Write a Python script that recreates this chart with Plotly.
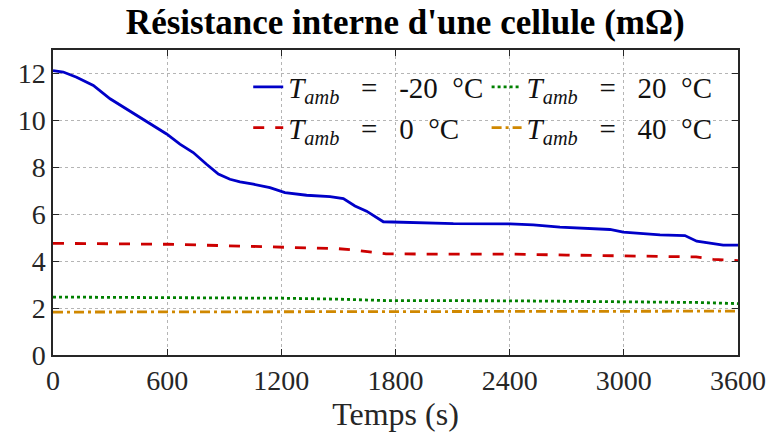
import plotly.graph_objects as go

# ---- data ----
t_m20 = [0, 54, 124, 212, 300, 387, 457, 527, 597, 667, 737, 807, 869, 930, 983, 1053,
         1140, 1219, 1333, 1456, 1526, 1587, 1648, 1736, 1823, 2034, 2104, 2402, 2524,
         2664, 2927, 2997, 3190, 3321, 3383, 3470, 3522, 3600]
r_m20 = [12.12, 12.06, 11.84, 11.49, 10.92, 10.49, 10.13, 9.77, 9.42, 8.99, 8.63, 8.13,
         7.71, 7.49, 7.38, 7.28, 7.13, 6.92, 6.81, 6.75, 6.67, 6.35, 6.13, 5.68, 5.66,
         5.64, 5.60, 5.59, 5.55, 5.45, 5.35, 5.24, 5.12, 5.09, 4.85, 4.75, 4.68, 4.68]

t_0 = [0, 300, 600, 900, 1200, 1500, 1600, 1750, 2100, 2400, 2700, 3000, 3380, 3470, 3600]
r_0 = [4.76, 4.74, 4.72, 4.66, 4.58, 4.53, 4.46, 4.31, 4.30, 4.30, 4.26, 4.22, 4.18, 4.08, 4.02]

t_20 = [0, 600, 1200, 1500, 1750, 2400, 3000, 3380, 3600]
r_20 = [2.47, 2.46, 2.42, 2.38, 2.32, 2.31, 2.28, 2.24, 2.19]

t_40 = [0, 1200, 2400, 3600]
r_40 = [1.83, 1.84, 1.86, 1.87]

labels = ["-20", "0", "20", "40"]
x_ticks = [0, 600, 1200, 1800, 2400, 3000, 3600]
y_ticks = [0, 2, 4, 6, 8, 10, 12]

SERIF = "Liberation Serif, Times New Roman, serif"
NB = "\u00a0"

def lab(v):
    return f"<i>T</i><sub><i>amb</i></sub>{NB*3}={NB*3}{v}{NB*2}°C"

fig = go.Figure()
fig.add_trace(go.Scatter(x=t_m20, y=r_m20, mode="lines", name=lab(labels[0]),
                         line=dict(color="#0000C8", width=2.8), legend="legend",
                         legendgroup="a"))
fig.add_trace(go.Scatter(x=t_0, y=r_0, mode="lines", name=lab(labels[1]),
                         line=dict(color="#CC0000", width=2.8, dash="11px,11px"),
                         legend="legend", legendgroup="b"))
fig.add_trace(go.Scatter(x=t_20, y=r_20, mode="lines", name=lab(labels[2]),
                         line=dict(color="#008000", width=2.8, dash="dot"),
                         legend="legend2", legendgroup="c"))
fig.add_trace(go.Scatter(x=t_40, y=r_40, mode="lines", name=lab(labels[3]),
                         line=dict(color="#D08800", width=2.8, dash="10px,4px,3px,4px"),
                         legend="legend2", legendgroup="d"))

leg_common = dict(font=dict(family=SERIF, size=29, color="#111"),
                  bgcolor="rgba(0,0,0,0)", borderwidth=0, tracegroupgap=0,
                  xanchor="left", yanchor="top", itemwidth=30)

fig.update_layout(
    width=769, height=444,
    margin=dict(l=53, r=31, t=50, b=89, autoexpand=False),
    paper_bgcolor="white", plot_bgcolor="white",
    title=dict(text="<b>Résistance interne d'une cellule (mΩ)</b>",
               font=dict(family=SERIF, size=35, color="#000"),
               x=0.527, xanchor="center", y=0.95, yanchor="middle"),
    legend=dict(x=0.285, y=0.962, **leg_common),
    legend2=dict(x=0.633, y=0.962, **leg_common),
    font=dict(family=SERIF, color="#262626"),
)

axis_common = dict(showline=True, linecolor="#262626", linewidth=1.5, mirror="allticks",
                   ticks="inside", ticklen=6, tickcolor="#262626", tickwidth=1.2,
                   showgrid=True, gridcolor="#b5b5b5", griddash="dot", gridwidth=1,
                   zeroline=False, automargin=False,
                   tickfont=dict(family=SERIF, size=28, color="#262626"))

fig.update_xaxes(range=[0, 3600], tickvals=x_ticks, ticktext=[str(v) for v in x_ticks],
                 title=dict(text="Temps (s)", font=dict(family=SERIF, size=32,
                                                         color="#262626"), standoff=6),
                 **axis_common)
fig.update_yaxes(range=[0, 13], tickvals=y_ticks, ticktext=[str(v) for v in y_ticks],
                 **axis_common)

fig.write_html("out.html", config={"displayModeBar": False},
               post_script="document.body.style.margin='0';")
